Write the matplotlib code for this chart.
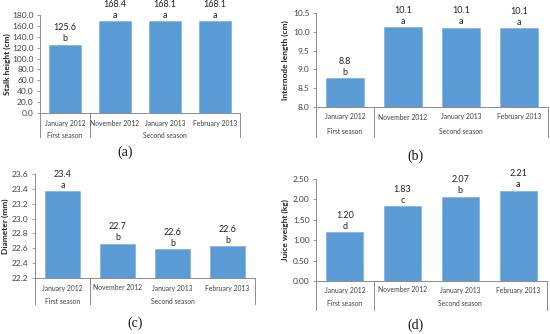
import matplotlib.pyplot as plt
from matplotlib.transforms import blended_transform_factory

W, H = 550, 334

categories = ["January 2012", "November 2012", "January 2013", "February 2013"]
seasons = ["First season", "Second season"]

stalk_height = [125.6, 168.4, 168.1, 168.1]
stalk_letters = ["b", "a", "a", "a"]

internode = [8.77, 10.12, 10.11, 10.10]
internode_letters = ["b", "a", "a", "a"]

diameter = [23.37, 22.66, 22.59, 22.63]
diameter_letters = ["a", "b", "b", "b"]

juice = [1.20, 1.83, 2.07, 2.21]
juice_letters = ["d", "c", "b", "a"]

BLUE = "#5b9bd5"
GREY = "#8c8c8c"
TXT = "#404040"

plt.rcParams['font.family'] = ['Lato', 'DejaVu Sans']

fig = plt.figure(figsize=(W / 100, H / 100), dpi=100)


def px_axes(l, t, r, b):
    return fig.add_axes([l / W, 1 - b / H, (r - l) / W, (b - t) / H])


def panel(box, values, letters, ylim, step, fmt, ylabel, ylab_x, rows, tag, tag_pos):
    l, t, r, b = box
    ax = px_axes(l, t, r, b)
    x = list(range(len(values)))
    ax.bar(x, [v - ylim[0] for v in values], bottom=ylim[0], width=0.64,
           color=BLUE, edgecolor="#7fb2e0", linewidth=0.5)
    ax.set_xlim(-0.5, len(values) - 0.5)
    ax.set_ylim(*ylim)
    n = int(round((ylim[1] - ylim[0]) / step))
    ticks = [ylim[0] + i * step for i in range(n + 1)]
    ax.set_yticks(ticks)
    ax.set_yticklabels([fmt.format(v) for v in ticks], fontsize=6, color=TXT)
    ax.set_xticks([])
    for s in ["top", "right"]:
        ax.spines[s].set_visible(False)
    for s in ["left", "bottom"]:
        ax.spines[s].set_color(GREY)
        ax.spines[s].set_linewidth(0.7)
    ax.tick_params(axis="y", length=2.5, width=0.6, color=GREY, pad=2)

    for xi, v, lt in zip(x, values, letters):
        ax.annotate(lt, (xi, v), xytext=(0, 1), textcoords="offset points",
                    ha="center", va="bottom", fontsize=6.5, color="#222222")
        ax.annotate(fmt.format(v), (xi, v), xytext=(0, 9), textcoords="offset points",
                    ha="center", va="bottom", fontsize=6.5, color="#222222")

    # multi-level category axis
    tr = blended_transform_factory(ax.transData, fig.transFigure)
    row1, row2, bottom = rows
    for xi, c in zip(x, categories):
        ax.text(xi, 1 - row1 / H, c, transform=tr, ha="center", va="center",
                fontsize=4.9, color=TXT)
    ax.text(0, 1 - row2 / H, seasons[0], transform=tr, ha="center", va="center",
            fontsize=4.9, color=TXT)
    ax.text(2, 1 - row2 / H, seasons[1], transform=tr, ha="center", va="center",
            fontsize=4.9, color=TXT)
    for xs in [-0.5, 0.5, len(values) - 0.5]:
        ax.plot([xs, xs], [1 - b / H, 1 - bottom / H], transform=tr,
                color=GREY, lw=0.7, clip_on=False)

    fig.text(ylab_x / W, 1 - (t + b) / 2 / H, ylabel, rotation=90, ha="center",
             va="center", fontsize=6, fontweight="bold", color="#222222")
    fig.text(tag_pos[0] / W, 1 - tag_pos[1] / H, tag, ha="center", va="center",
             fontsize=10, family="Liberation Serif", color="#111111")
    return ax


panel((40, 15, 240, 113), stalk_height, stalk_letters, (0, 180), 20, "{:.1f}",
      "Stalk height (cm)", 7, (123, 136, 137), "(a)", (125, 152))
panel((316, 13, 548, 107), internode, internode_letters, (8.0, 10.5), 0.5, "{:.1f}",
      "Internode length (cm)", 285, (117, 131, 137), "(b)", (415, 156))
panel((35, 174, 255, 278), diameter, diameter_letters, (22.2, 23.6), 0.2, "{:.1f}",
      "Diameter (mm)", 5, (288, 301, 304), "(c)", (135, 323))
panel((316, 179, 547, 281), juice, juice_letters, (0, 2.5), 0.5, "{:.2f}",
      "Juice weight (kg)", 285, (290, 304, 310), "(d)", (415, 325))

fig.savefig("out.png", dpi=100)
